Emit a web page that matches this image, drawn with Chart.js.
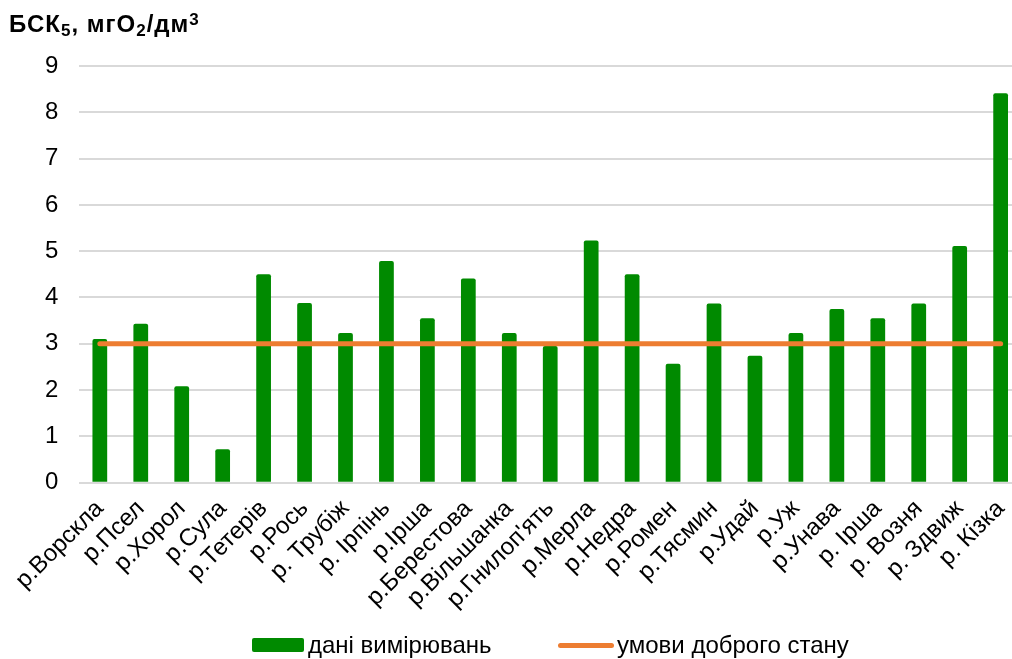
<!DOCTYPE html>
<html>
<head>
<meta charset="utf-8">
<script src="https://cdn.jsdelivr.net/npm/chart.js@4/dist/chart.umd.min.js"></script>
<style>
  html, body { margin: 0; padding: 0; overflow: hidden; background: #fff; }
  body { width: 1012px; height: 659px; position: relative; font-family: "Liberation Sans", Arial, sans-serif; }
  #wrap { position: absolute; left: 0; top: 0; width: 1025px; height: 659px; }
  #title { position: absolute; left: 9px; top: 10px; font-size: 24px; font-weight: bold; color: #000; line-height: 28px; letter-spacing: 1px; white-space: nowrap; }
  #title sub, #title sup { font-size: 17px; line-height: 0; }
  #title sub { vertical-align: -4px; }
  #title sup { vertical-align: 7px; }
  #legend { position: absolute; left: 0; top: 631px; width: 1012px; height: 28px; font-size: 24px; color: #000; }
  .item { position: absolute; top: 0; display: flex; align-items: center; height: 28px; white-space: nowrap; }
  .swatch { display: inline-block; margin-right: 4px; }
</style>
</head>
<body>
<div id="wrap"><canvas id="chart"></canvas></div>
<div id="title">БСК<sub>5</sub>, мгО<sub>2</sub>/дм<sup>3</sup></div>
<div id="legend"></div>
<script>
const categories = [
  "р.Ворскла", "р.Псел", "р.Хорол", "р.Сула", "р.Тетерів", "р.Рось",
  "р. Трубіж", "р. Ірпінь", "р.Ірша", "р.Берестова", "р.Вільшанка",
  "р.Гнилоп'ять", "р.Мерла", "р.Недра", "р.Ромен", "р.Тясмин", "р.Удай",
  "р.Уж", "р.Унава", "р. Ірша", "р. Возня", "р. Здвиж", "р. Кізка"
];
const measured = [
  3.1, 3.43, 2.08, 0.72, 4.5, 3.88, 3.23, 4.79, 3.55, 4.41, 3.23,
  2.95, 5.23, 4.5, 2.57, 3.87, 2.74, 3.23, 3.75, 3.55, 3.87, 5.11, 8.41
];
const goodState = categories.map(() => 3);
const yTicks = [0, 1, 2, 3, 4, 5, 6, 7, 8, 9];

const seriesNames = ["дані вимірювань", "умови доброго стану"];
const GREEN = "#008a00";
const ORANGE = "#ed7d31";

Chart.defaults.font.family = "'Liberation Sans', Arial, sans-serif";
Chart.defaults.color = "#000";

const chart = new Chart(document.getElementById("chart"), {
  type: "bar",
  data: {
    labels: categories,
    datasets: [
      {
        label: seriesNames[0],
        data: measured,
        backgroundColor: GREEN,
        borderWidth: 0,
        borderRadius: 2,
        borderSkipped: "bottom",
        categoryPercentage: 1,
        barPercentage: 0.36,
        order: 1,
      },
      {
        type: "line",
        label: seriesNames[1],
        data: goodState,
        borderColor: ORANGE,
        backgroundColor: ORANGE,
        borderWidth: 5,
        borderCapStyle: "round",
        pointRadius: 0,
        fill: false,
        order: 0,
      },
    ],
  },
  options: {
    responsive: true,
    maintainAspectRatio: false,
    animation: false,
    layout: { padding: { top: 66, left: 24, right: 0, bottom: 41 } },
    plugins: {
      legend: { display: false },
      tooltip: { enabled: false },
    },
    scales: {
      x: {
        grid: { display: false },
        border: { display: false },
        ticks: { font: { size: 24 }, maxRotation: 45, minRotation: 45, autoSkip: false, padding: 4 },
      },
      y: {
        min: yTicks[0],
        max: yTicks[yTicks.length - 1],
        afterBuildTicks: (axis) => { axis.ticks = yTicks.map((v) => ({ value: v })); },
        grid: { color: "#d9d9d9", lineWidth: 2, drawTicks: false },
        border: { display: false },
        ticks: { font: { size: 24 }, padding: 21 },
      },
    },
  },
});

/* HTML legend built from the chart's own legend items, in dataset order */
function renderLegend(chart) {
  const box = document.getElementById("legend");
  box.innerHTML = "";
  const items = chart.options.plugins.legend.labels.generateLabels(chart)
    .sort((a, b) => a.datasetIndex - b.datasetIndex);
  const lefts = [252, 558];
  items.forEach((it, i) => {
    const el = document.createElement("div");
    el.className = "item";
    el.style.left = lefts[i] + "px";
    const sw = document.createElement("span");
    sw.className = "swatch";
    if (i === 0) {
      sw.style.width = "52px";
      sw.style.height = "14px";
      sw.style.borderRadius = "2px";
      sw.style.background = it.fillStyle;
    } else {
      sw.style.width = "56px";
      sw.style.height = "5px";
      sw.style.borderRadius = "3px";
      sw.style.background = it.strokeStyle;
      sw.style.marginRight = "3px";
    }
    const txt = document.createElement("span");
    txt.textContent = it.text;
    el.appendChild(sw);
    el.appendChild(txt);
    box.appendChild(el);
  });
}
renderLegend(chart);
</script>
</body>
</html>
